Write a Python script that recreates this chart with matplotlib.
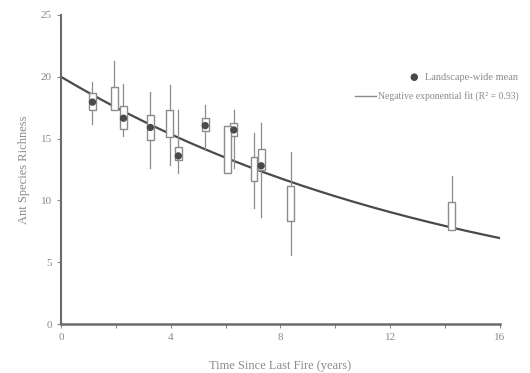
import matplotlib
matplotlib.use("Agg")
import matplotlib.pyplot as plt
import numpy as np

# ---- data ----
# boxes with a mean dot (landscape-scale)
mean_x = [1.15, 2.28, 3.26, 4.28, 5.26, 6.30, 7.30]
mean_lo = [16.2, 15.2, 12.6, 12.2, 14.1, 12.6, 8.7]
mean_q1 = [17.35, 15.8, 14.9, 13.3, 15.6, 15.2, 12.5]
mean_q3 = [18.65, 17.6, 16.9, 14.3, 16.7, 16.3, 14.2]
mean_hi = [19.6, 19.45, 18.8, 17.3, 17.7, 17.3, 16.3]
mean_val = [17.95, 16.65, 15.9, 13.6, 16.05, 15.7, 12.8]

# open boxes (no mean dot)
site_x = [1.95, 3.96, 6.08, 7.04, 8.38, 14.25]
site_lo = [17.35, 12.9, 12.2, 9.4, 5.55, 7.6]
site_q1 = [17.35, 15.1, 12.2, 11.55, 8.3, 7.6]
site_q3 = [19.2, 17.3, 16.0, 13.5, 11.2, 9.9]
site_hi = [21.3, 19.3, 16.0, 15.45, 13.9, 11.95]

# negative exponential fit parameters
fit_a = 20.0
fit_k = 0.066

x_ticks = [0, 4, 8, 12, 16]
y_ticks = [0, 5, 10, 15, 20, 25]
x_label = "Time Since Last Fire (years)"
y_label = "Ant Species Richness"
legend_mean = "Landscape-wide mean"
legend_fit = "Negative exponential fit (R² = 0.93)"

plt.rcParams['font.family'] = ['Liberation Serif', 'DejaVu Serif']
txt = '#8a8a8a'
line_c = '#4a4a4a'
box_c = '#8c8c8c'

fig = plt.figure(figsize=(5.30, 3.73), dpi=100)
ax = fig.add_axes([0.115, 0.131, 0.828, 0.829])

xs = np.linspace(0, 16, 200)
ax.plot(xs, fit_a * np.exp(-fit_k * xs), color=line_c, lw=1.6, zorder=2)

def stats(xl, lo, q1, q3, hi):
    out = []
    for i in range(len(xl)):
        out.append(dict(whislo=lo[i], q1=q1[i], med=(q1[i] + q3[i]) / 2,
                        q3=q3[i], whishi=hi[i], fliers=[]))
    return out

common = dict(widths=0.25, showcaps=False, patch_artist=True,
              boxprops=dict(facecolor='white', edgecolor=box_c, lw=1.0),
              whiskerprops=dict(color=box_c, lw=0.9),
              medianprops=dict(color='white', lw=0),
              manage_ticks=False, zorder=3)
ax.bxp(stats(mean_x, mean_lo, mean_q1, mean_q3, mean_hi), positions=mean_x, **common)
ax.bxp(stats(site_x, site_lo, site_q1, site_q3, site_hi), positions=site_x, **common)

ax.scatter(mean_x, mean_val, s=28, color='#4a4a4a', zorder=4, edgecolors='none')

ax.set_xlim(0, 16)
ax.set_ylim(0, 25)
ax.set_xticks(x_ticks)
ax.set_xticks([2, 6, 10, 14], minor=True)
ax.set_yticks(y_ticks)
ax.tick_params(axis='both', colors=txt, labelsize=8, length=3, width=0.8)
ax.tick_params(axis='x', which='minor', colors=txt, length=3, width=0.8)
for s in ['top', 'right']:
    ax.spines[s].set_visible(False)
ax.spines['left'].set_color('#6a6a6a')
ax.spines['left'].set_linewidth(1.5)
ax.spines['bottom'].set_color('#6a6a6a')
ax.spines['bottom'].set_linewidth(1.8)
ax.set_xlabel(x_label, color=txt, fontsize=9, labelpad=13)
ax.set_ylabel(y_label, color=txt, fontsize=9, labelpad=8)

# legend-like labels at upper right
fig.text(414 / 530, 1 - 77 / 373, '●', color='#4a4a4a', fontsize=7,
         ha='center', va='center', family=['DejaVu Sans'])
fig.text(425 / 530, 1 - 77 / 373, legend_mean, color=txt, fontsize=7.5, va='center')
fig.lines.append(plt.Line2D([355 / 530, 376 / 530], [1 - 96 / 373, 1 - 96 / 373],
                            transform=fig.transFigure, color=box_c, lw=1.0))
fig.text(378 / 530, 1 - 96 / 373, legend_fit, color=txt, fontsize=7, va='center')

fig.savefig('out.png', dpi=100)
